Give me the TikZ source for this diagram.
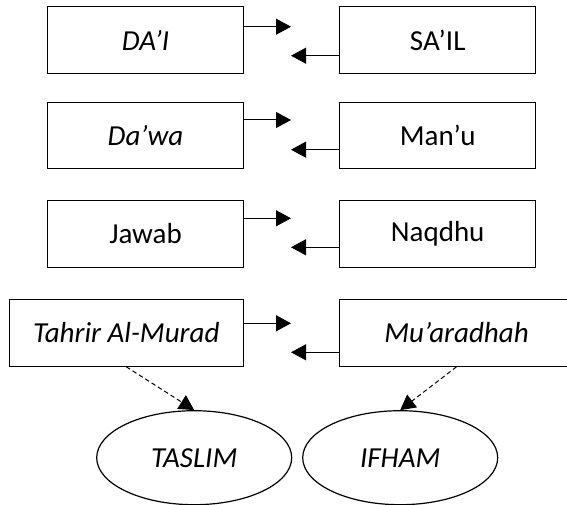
\documentclass[tikz,border=0pt]{standalone}
\usepackage{fontspec}
\setmainfont{Carlito}
\usetikzlibrary{arrows.meta,shapes.geometric}

\begin{document}
\begin{tikzpicture}[x=1pt, y=-1pt, line width=1pt,
    every node/.style={font=\fontsize{29}{34}\selectfont},
    box/.style={draw, rectangle, inner sep=0pt, minimum width=195.6pt, minimum height=66.6pt},
    widebox/.style={box, minimum width=234pt},
    oval/.style={draw, ellipse, line width=1.2pt, inner sep=0pt, minimum width=195pt, minimum height=94pt},
    arr/.style={-{Triangle[length=15pt,width=16pt]}},
    darr/.style={arr, dash pattern=on 4.5pt off 3pt}]
  \useasboundingbox (0,0) rectangle (567,505);
  \clip (0,0) rectangle (567,505);
  % left and right columns
  \node[box] (dai) at (145.5,40) {\itshape DA’I};
  \node[box] (sail) at (437.7,40) {SA’IL};
  \node[box] (dawa) at (145.5,135.7) {\itshape Da’wa};
  \node[box] (manu) at (437.7,135.7) {Man’u};
  \node[box] (jawab) at (145.5,234) {Jawab};
  \node[box] (naqdhu) at (437.7,234) {Naqdhu};
  \node[widebox] (tahrir) at (126.3,333) {\itshape Tahrir Al-Murad};
  \node[widebox] (muaradhah) at (456.5,333) {\itshape Mu’aradhah};
  % results
  \node[oval] (taslim) at (194.2,457.7) {\itshape TASLIM};
  \node[oval] (ifham) at (400.2,457.7) {\itshape IFHAM};
  % arrow ends between the columns
  \coordinate (r1) at (291,26.7);
  \coordinate (l1) at (291,55.7);
  \coordinate (r2) at (291,120);
  \coordinate (l2) at (291,149.7);
  \coordinate (r3) at (291,218.3);
  \coordinate (l3) at (291,247.3);
  \coordinate (r4) at (291,323.3);
  \coordinate (l4) at (291,352.3);
  \draw[arr] (dai.east |- r1) -- (r1);
  \draw[arr] (sail.west |- l1) -- (l1);
  \draw[arr] (dawa.east |- r2) -- (r2);
  \draw[arr] (manu.west |- l2) -- (l2);
  \draw[arr] (jawab.east |- r3) -- (r3);
  \draw[arr] (naqdhu.west |- l3) -- (l3);
  \draw[arr] (tahrir.east |- r4) -- (r4);
  \draw[arr] (muaradhah.west |- l4) -- (l4);
  \draw[darr] (tahrir.south) -- (taslim.north);
  \draw[darr] (muaradhah.south) -- (ifham.north);
\end{tikzpicture}
\end{document}
